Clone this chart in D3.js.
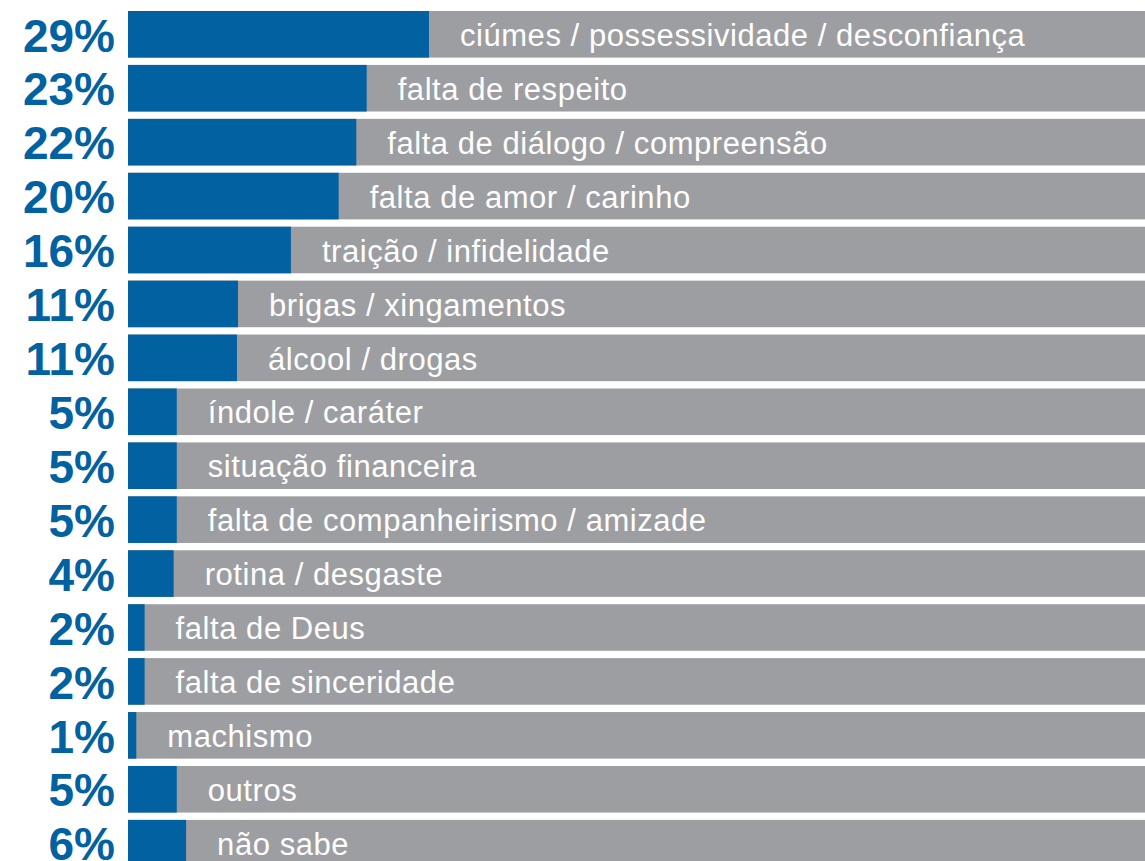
<!DOCTYPE html>
<html>
<head>
<meta charset="utf-8">
<script src="https://cdn.jsdelivr.net/npm/d3@7"></script>
<style>
  html, body { margin: 0; padding: 0; background: #fff; overflow: hidden; }
</style>
</head>
<body>
<div id="chart"></div>
<script>
// data
var categories = [
    "ciúmes / possessividade / desconfiança",
    "falta de respeito",
    "falta de diálogo / compreensão",
    "falta de amor / carinho",
    "traição / infidelidade",
    "brigas / xingamentos",
    "álcool / drogas",
    "índole / caráter",
    "situação financeira",
    "falta de companheirismo / amizade",
    "rotina / desgaste",
    "falta de Deus",
    "falta de sinceridade",
    "machismo",
    "outros",
    "não sabe"
];
var values = [29, 23, 22, 20.3, 15.7, 10.6, 10.5, 4.7, 4.7, 4.7, 4.4, 1.6, 1.6, 0.8, 4.7, 5.6];
var labels = ["29%", "23%", "22%", "20%", "16%", "11%", "11%", "5%", "5%", "5%", "4%", "2%", "2%", "1%", "5%", "6%"];

function barChart(){
    var width = 1145, height = 861;
    var left = 128;

    var svg = d3.select("#chart")
        .append("svg")
        .attr("width", width)
        .attr("height", height);

    // x: percent -> pixels
    var x = d3.scaleLinear()
        .domain([0, 98])
        .range([left, width]);

    // y: one band per category
    var y = d3.scaleBand()
        .domain(d3.range(categories.length))
        .range([11, 866.5])
        .paddingInner(0.136)
        .paddingOuter(0);

    var rows = svg.selectAll("g.row")
        .data(values)
        .enter().append("g")
        .attr("class", "row")
        .attr("transform", function(d, i){ return "translate(0," + y(i) + ")"; });

    // gray background bar
    rows.append("rect")
        .attr("x", left)
        .attr("width", width - left)
        .attr("height", y.bandwidth())
        .attr("fill", "#9d9ea2");

    // blue value bar
    rows.append("rect")
        .attr("x", x(0))
        .attr("width", function(d){ return x(d) - x(0); })
        .attr("height", y.bandwidth())
        .attr("fill", "#0261a0");

    // percent labels
    rows.append("text")
        .attr("x", 115)
        .attr("y", 40.5)
        .attr("text-anchor", "end")
        .attr("font-family", "'Liberation Sans', Arial, sans-serif")
        .attr("font-weight", "bold")
        .attr("font-size", "46px")
        .attr("fill", "#0261a0")
        .text(function(d, i){ return labels[i]; });

    // category labels
    rows.append("text")
        .attr("x", function(d){ return x(d) + 31; })
        .attr("y", 35)
        .attr("font-family", "'Liberation Sans', Arial, sans-serif")
        .attr("font-size", "31px")
        .attr("letter-spacing", "0.55px")
        .attr("fill", "#ffffff")
        .text(function(d, i){ return categories[i]; });
}

barChart();
</script>
</body>
</html>
